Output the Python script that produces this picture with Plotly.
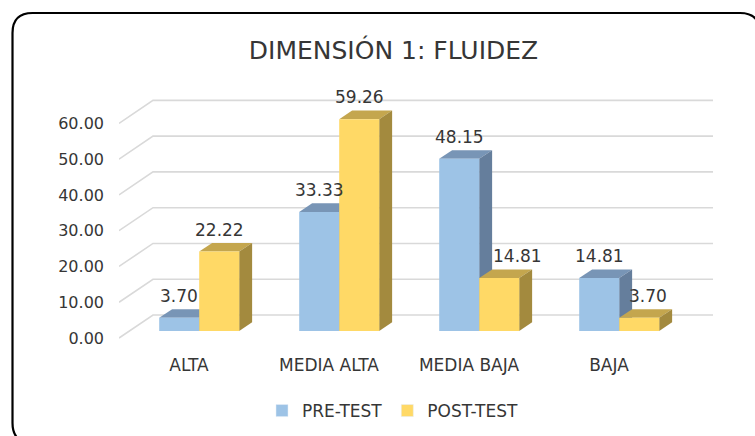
import plotly.graph_objects as go

categories = ["ALTA", "MEDIA ALTA", "MEDIA BAJA", "BAJA"]
pre_test = [3.70, 33.33, 48.15, 14.81]
post_test = [22.22, 59.26, 14.81, 3.70]
series_names = ["PRE-TEST", "POST-TEST"]
y_ticks = [0, 10, 20, 30, 40, 50, 60]
y_tick_labels = ["%.2f" % t for t in y_ticks]

# ---- styling / projection constants (not data) ----
W, H = 755, 436
ML, MR, MT, MB = 119, 35, 88, 91
PX_PER_CAT = 140.0
PX_PER_UNIT = 3.577
DX = 34 / PX_PER_CAT          # depth shift in category units (full depth)
DY = 23 / PX_PER_UNIT         # depth shift in value units (full depth)
D0, D1 = 0.30, 0.68           # bar front / back depth fractions
BW = 0.2857                   # bar width in category units
x_range = [-0.5, -0.5 + (W - ML - MR) / PX_PER_CAT]
y_bottom = -(MT + (H - MT - MB) - 338) / PX_PER_UNIT
y_range = [y_bottom, y_bottom + (H - MT - MB) / PX_PER_UNIT]

colors = {
    "PRE-TEST": {"front": "#9DC3E6", "top": "#7895B6", "side": "#657E9C"},
    "POST-TEST": {"front": "#FFD966", "top": "#C4A64E", "side": "#A38A3E"},
}
label_xshift = {"PRE-TEST": [0, 0, 0, 0], "POST-TEST": [0, 0, 18, 9]}
GRID = "#D9D9D9"
TXT = "#363636"
FONT = "DejaVu Sans"

fig = go.Figure()

# gridlines: back wall + left side wall diagonals
gx, gy = [], []
for t in y_ticks:
    gx += [x_range[0], x_range[0] + DX, 3.5 + DX, None]
    gy += [t, t + DY, t + DY, None]
fig.add_trace(go.Scatter(x=gx, y=gy, mode="lines", line=dict(color=GRID, width=1.6),
                         hoverinfo="skip", showlegend=False))

def poly(xs, ys, color):
    fig.add_trace(go.Scatter(x=xs + [xs[0]], y=ys + [ys[0]], mode="lines", fill="toself",
                             fillcolor=color, line=dict(width=0, color=color),
                             hoverinfo="skip", showlegend=False))

series = [("PRE-TEST", pre_test, -BW), ("POST-TEST", post_test, 0.0)]
dd = D1 - D0
for i in range(len(categories)):
    for name, vals, xoff in series:
        v = vals[i]
        c = colors[name]
        x0 = i + xoff + D0 * DX
        x1 = x0 + BW
        yb = D0 * DY
        yt = v + D0 * DY
        # top face
        poly([x0, x1, x1 + dd * DX, x0 + dd * DX], [yt, yt, yt + dd * DY, yt + dd * DY], c["top"])
        # side face
        poly([x1, x1 + dd * DX, x1 + dd * DX, x1], [yb, yb + dd * DY, yt + dd * DY, yt], c["side"])
        # front face
        poly([x0, x1, x1, x0], [yb, yb, yt, yt], c["front"])

# data labels
for name, vals, xoff in series:
    for i, v in enumerate(vals):
        fig.add_annotation(x=i + xoff + BW / 2 + D0 * DX, y=v + D1 * DY,
                           text="%.2f" % v, showarrow=False, yanchor="bottom",
                           xshift=label_xshift[name][i], yshift=1,
                           font=dict(family=FONT, size=17, color=TXT))

# legend entries
for name in series_names:
    fig.add_trace(go.Bar(x=[None], y=[None], name=name, marker_color=colors[name]["front"]))

# rounded border
def px_to_paper(px, py):
    return (px - ML) / (W - ML - MR), (H - MB - py) / (H - MT - MB)

L, T, R, B, RAD = 12.5, 13, 760, 443, 20
def P(x, y):
    a, b = px_to_paper(x, y)
    return "%.5f,%.5f" % (a, b)
path = ("M " + P(L + RAD, T) + " L " + P(R - RAD, T) + " Q " + P(R, T) + " " + P(R, T + RAD) +
        " L " + P(R, B - RAD) + " Q " + P(R, B) + " " + P(R - RAD, B) +
        " L " + P(L + RAD, B) + " Q " + P(L, B) + " " + P(L, B - RAD) +
        " L " + P(L, T + RAD) + " Q " + P(L, T) + " " + P(L + RAD, T) + " Z")
fig.add_shape(type="path", path=path, xref="paper", yref="paper",
              line=dict(color="#000000", width=2.2), fillcolor="rgba(0,0,0,0)")

fig.update_layout(
    width=W, height=H,
    margin=dict(l=ML, r=MR, t=MT, b=MB),
    paper_bgcolor="white", plot_bgcolor="white",
    barmode="overlay",
    title=dict(text="DIMENSIÓN 1: FLUIDEZ", xref="container", yref="container",
               x=393.5 / W, y=1 - 50 / H, xanchor="center", yanchor="middle",
               font=dict(family=FONT, size=25, color=TXT)),
    xaxis=dict(range=x_range, showgrid=False, zeroline=False, showline=False,
               tickvals=list(range(len(categories))), ticktext=categories,
               ticklabelstandoff=8, tickfont=dict(family=FONT, size=17, color=TXT),
               fixedrange=True),
    yaxis=dict(range=y_range, showgrid=False, zeroline=False, showline=False,
               tickvals=y_ticks, ticktext=y_tick_labels, ticklabelstandoff=14,
               tickfont=dict(family=FONT, size=16, color=TXT), fixedrange=True),
    legend=dict(orientation="h", xref="container", yref="container",
                x=393 / W, y=1 - 411 / H, xanchor="center", yanchor="middle",
                font=dict(family=FONT, size=17, color=TXT), itemclick=False),
    showlegend=True,
)

fig.write_html("out.html", config={"displayModeBar": False},
               post_script="document.body.style.margin='0';document.body.style.overflow='hidden';")
